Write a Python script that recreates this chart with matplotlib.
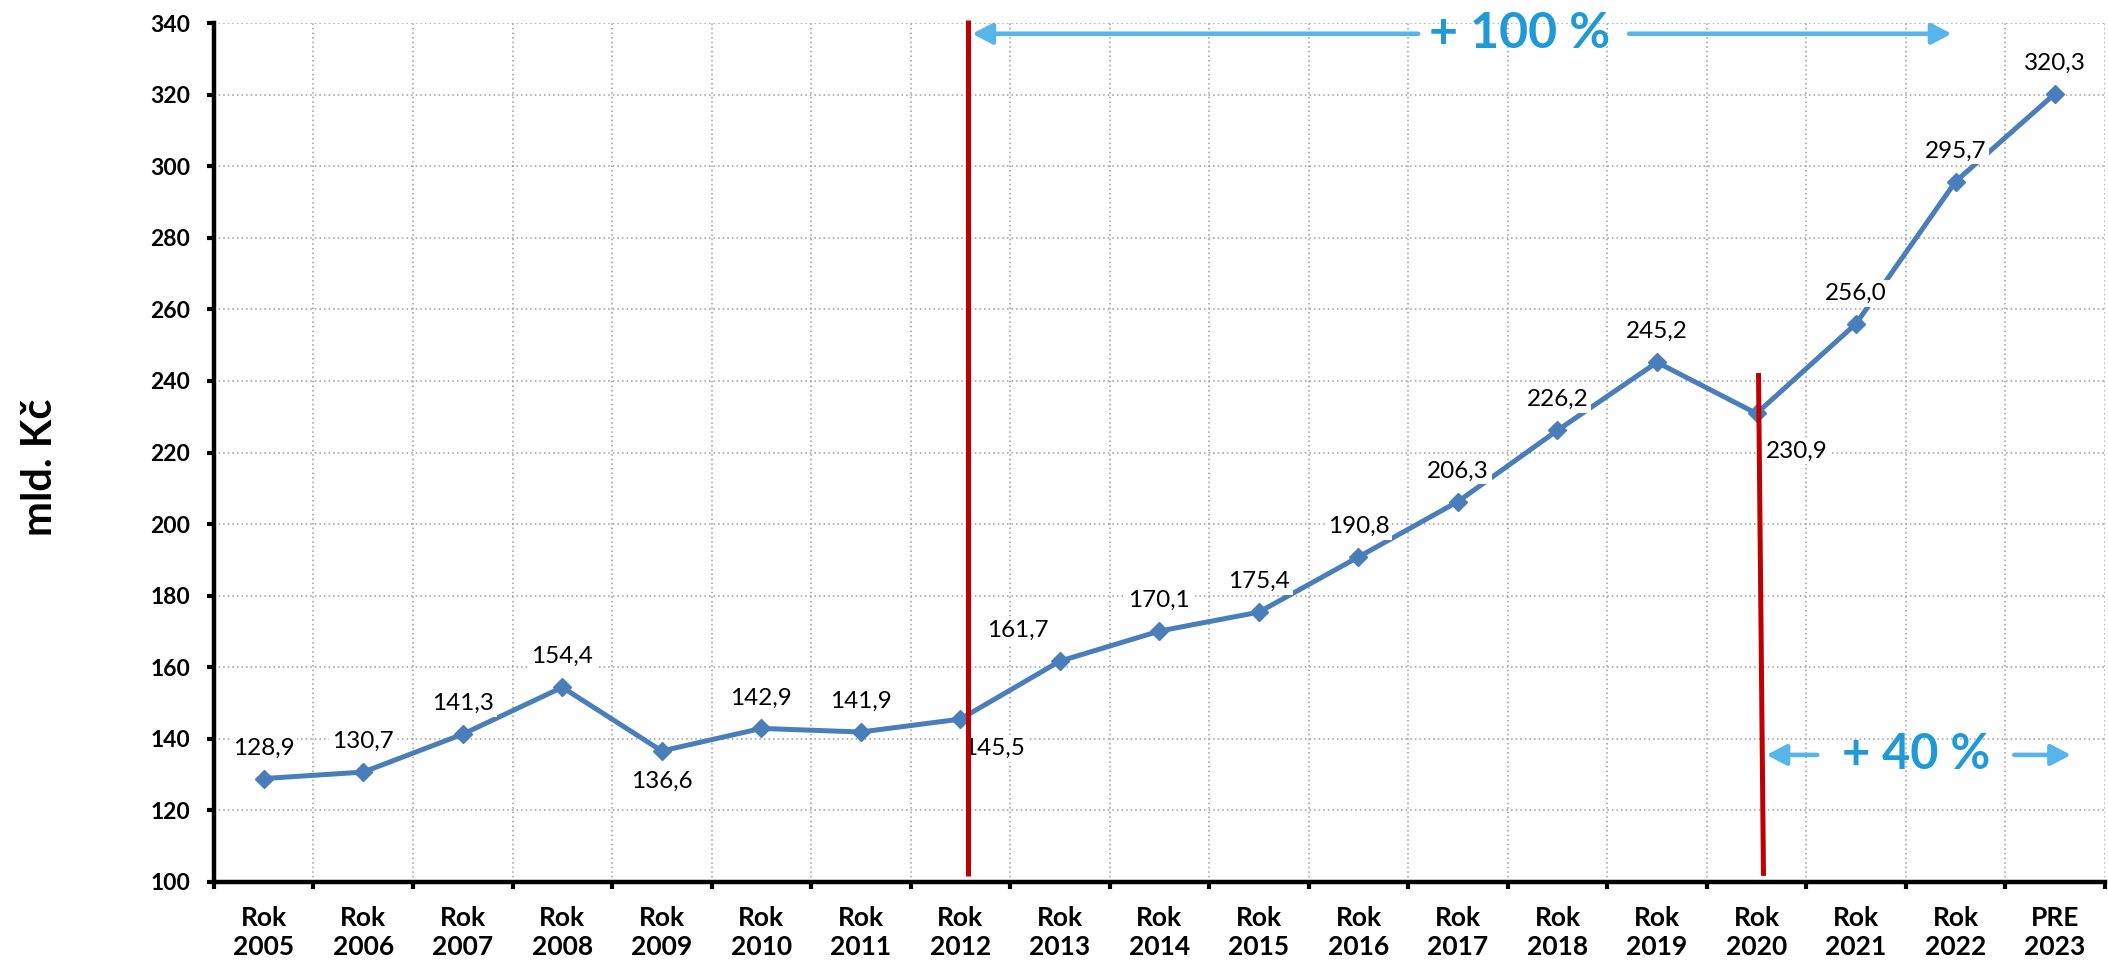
import matplotlib
matplotlib.use('Agg')
import matplotlib.pyplot as plt

categories = ['Rok\n2005', 'Rok\n2006', 'Rok\n2007', 'Rok\n2008', 'Rok\n2009', 'Rok\n2010',
              'Rok\n2011', 'Rok\n2012', 'Rok\n2013', 'Rok\n2014', 'Rok\n2015', 'Rok\n2016',
              'Rok\n2017', 'Rok\n2018', 'Rok\n2019', 'Rok\n2020', 'Rok\n2021', 'Rok\n2022',
              'PRE\n2023']
values = [128.9, 130.7, 141.3, 154.4, 136.6, 142.9, 141.9, 145.5, 161.7, 170.1,
          175.4, 190.8, 206.3, 226.2, 245.2, 230.9, 256.0, 295.7, 320.3]
value_labels = ['128,9', '130,7', '141,3', '154,4', '136,6', '142,9', '141,9', '145,5',
                '161,7', '170,1', '175,4', '190,8', '206,3', '226,2', '245,2', '230,9',
                '256,0', '295,7', '320,3']
label_place = ['above', 'above', 'above', 'above', 'below', 'above', 'above', 'below_right',
               'above_left', 'above', 'above', 'above', 'above', 'above', 'above', 'below_right2',
               'above', 'above', 'above']
yticks = list(range(100, 341, 20))
y_label = 'mld. Kč'
growth_long = '+ 100 %'
growth_short = '+ 40 %'

plt.rcParams['font.family'] = ['Lato', 'DejaVu Sans']

LINE = '#4A7EBB'
RED = '#C00000'
ARROW = '#56B5E9'
TXT_BLUE = '#1F9AD6'

fig = plt.figure(figsize=(21.08, 9.64), dpi=100)
ax = fig.add_axes([0.1015, 0.0851, 0.897, 0.891])

xs = list(range(len(values)))
ax.plot(xs, values, color=LINE, lw=3.6, marker='D', ms=9.5, mec=LINE, mfc=LINE,
        zorder=3, clip_on=False)

ax.set_xlim(-0.5, len(values) - 0.5)
ax.set_ylim(100, 340)
ax.set_yticks(yticks)
ax.set_yticklabels([str(v) for v in yticks], fontsize=16.5, fontweight='bold')
ax.set_xticks([i - 0.5 for i in range(len(values) + 1)])
ax.set_xticklabels([])
ax.set_xticks(xs, minor=True)
ax.set_xticklabels(categories, minor=True, fontsize=19, fontweight='bold', linespacing=1.28)
ax.tick_params(axis='x', which='minor', length=0, pad=17)
ax.tick_params(axis='x', which='major', length=5, width=3, direction='out')
ax.tick_params(axis='y', which='major', length=5, width=3, direction='out', pad=12)

ax.grid(True, which='major', linestyle=(0, (1, 2)), color='#9C9C9C', lw=1.1)
ax.set_axisbelow(True)
for s in ['top', 'right']:
    ax.spines[s].set_visible(False)
for s in ['left', 'bottom']:
    ax.spines[s].set_linewidth(3.2)

offsets = {
    'above': (0, 22),
    'below': (0, -22),
    'below_right': (24, -21),
    'below_right2': (29, -27),
    'above_left': (-30, 22),
}
for i, (v, lab, pl) in enumerate(zip(values, value_labels, label_place)):
    dx, dy = offsets[pl]
    ax.annotate(lab, (i, v), xytext=(dx, dy), textcoords='offset points',
                ha='center', va='center', fontsize=17.5, color='black', zorder=4,
                bbox=dict(boxstyle='square,pad=0.12', fc='white', ec='none'))

# red vertical markers
ax.plot([7.08, 7.08], [101.7, 340.8], color=RED, lw=3.6, zorder=5, clip_on=False,
        solid_capstyle='butt')
ax.plot([15.02, 15.07], [242.2, 101.7], color=RED, lw=3.6, zorder=5, clip_on=False,
        solid_capstyle='butt')

aprops = dict(arrowstyle='-|>,head_length=0.8,head_width=0.42', color=ARROW, lw=3.3,
              shrinkA=0, shrinkB=0, mutation_scale=15)
ya = 337
ax.annotate('', xy=(7.12, ya), xytext=(11.6, ya), arrowprops=aprops, zorder=6,
            annotation_clip=False)
ax.annotate('', xy=(16.96, ya), xytext=(13.72, ya), arrowprops=aprops, zorder=6,
            annotation_clip=False)
ax.text(12.62, ya, growth_long, fontsize=36, fontweight='bold', color=TXT_BLUE,
        ha='center', va='center', zorder=6)

yb = 135.5
ax.annotate('', xy=(15.1, yb), xytext=(15.61, yb), arrowprops=aprops, zorder=6)
ax.annotate('', xy=(18.16, yb), xytext=(17.59, yb), arrowprops=aprops, zorder=6)
ax.text(16.6, yb, growth_short, fontsize=35, fontweight='bold', color=TXT_BLUE,
        ha='center', va='center', zorder=6)

fig.text(40 / 2108, 1 - 467 / 964, y_label, rotation=90, fontsize=30, fontweight='bold',
         ha='center', va='center')

fig.savefig('out.png', dpi=100)
